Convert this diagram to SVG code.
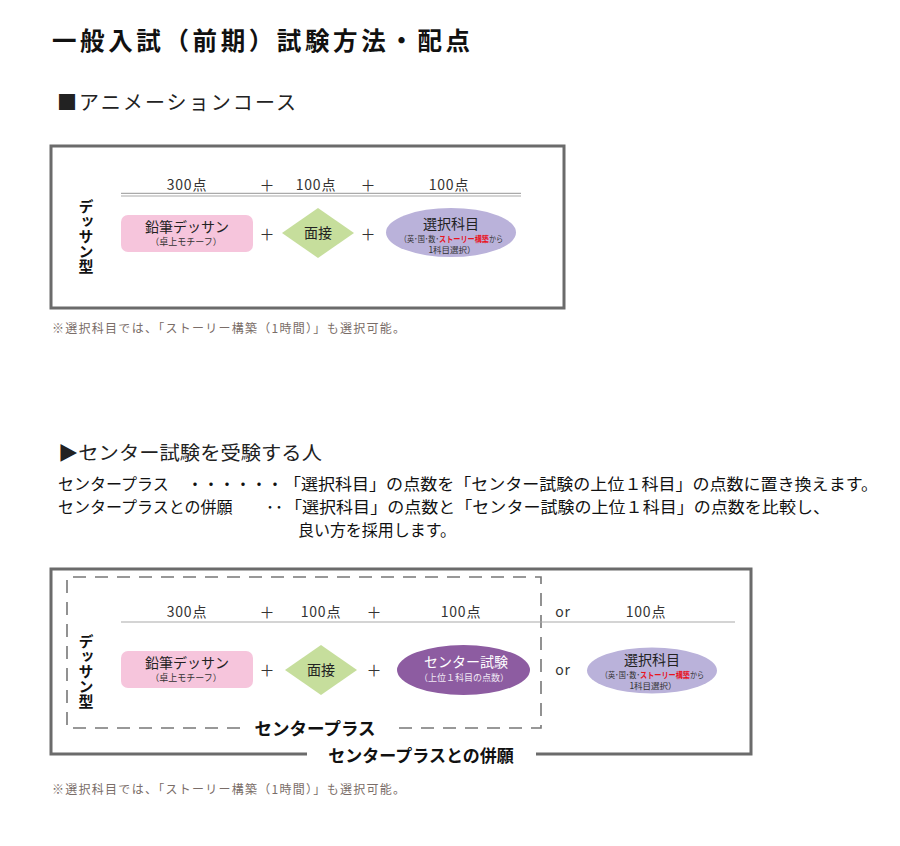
<svg xmlns="http://www.w3.org/2000/svg" width="900" height="846" viewBox="0 0 900 846">
<style>
text{font-family:"Noto Sans CJK JP","Noto Sans",sans-serif;fill:#222}
.b{font-weight:bold;fill:#111}
.frame{fill:none;stroke:#6b6b6b;stroke-width:3}
.dash{fill:none;stroke:#777;stroke-width:1.6;stroke-dasharray:13 9}
.rule{stroke:#aaa;stroke-width:1.2}
.sc{font-size:14px;text-anchor:middle;fill:#333;letter-spacing:0.8px}
.pl{font-size:15px;text-anchor:middle;fill:#333}
.vt{font-size:15px;font-weight:bold;writing-mode:vertical-rl;fill:#111}
.pink{fill:#f6c5dc}
.green{fill:#c6de9c}
.lav{fill:#bab2da}
.pur{fill:#8d5ca1}
.n1{font-size:14px;text-anchor:middle;fill:#222}
.n2{font-size:9px;text-anchor:middle;fill:#333}
.s{font-size:8.5px;fill:#333;text-anchor:middle}
.red{fill:#e8141e;font-weight:bold}
.note{font-size:12px;fill:#7a6d68}
.ln{font-size:16px;fill:#111}
</style>

<text class="b" x="52" y="50" font-size="24.5" textLength="418" lengthAdjust="spacing">一般入試（前期）試験方法・配点</text>
<text x="57" y="110" font-size="20" fill="#111" textLength="239" lengthAdjust="spacing">■アニメーションコース</text>

<!-- Box 1 -->
<g id="box1">
<rect class="frame" x="51" y="146" width="513" height="162"/>
<text class="sc" x="187" y="190">300点</text>
<text class="pl" x="267" y="191">＋</text>
<text class="sc" x="316" y="190">100点</text>
<text class="pl" x="368" y="191">＋</text>
<text class="sc" x="449" y="190">100点</text>
<line class="rule" x1="121" y1="193.3" x2="521" y2="193.3"/>
<line class="rule" x1="121" y1="196" x2="521" y2="196"/>
<text class="vt" x="86" y="199">デッサン型</text>
</g>
<g id="node1-dessin">
<rect class="pink" x="121" y="215" width="132" height="37" rx="7"/>
<text class="n1" x="187" y="232">鉛筆デッサン</text>
<text class="n2" x="186" y="245" font-size="9.5">（卓上モチーフ）</text>
</g>
<text class="pl" x="267" y="240">＋</text>
<g id="node1-interview">
<polygon class="green" points="318,208 354,233 318,258 282,233"/>
<text class="n1" x="318" y="238">面接</text>
</g>
<text class="pl" x="368" y="240">＋</text>
<g id="node1-select">
<ellipse class="lav" cx="451" cy="232.5" rx="65" ry="24.5"/>
<text class="n1" x="451" y="229">選択科目</text>
<text class="s" transform="translate(451.5,242) scale(0.84,1)">（英･国･数･<tspan class="red">ストーリー構築</tspan>から</text>
<text class="s" x="452" y="253">1科目選択）</text>
</g>
<text class="note" x="52" y="333" textLength="353" lengthAdjust="spacing">※選択科目では、「ストーリー構築（1時間）」も選択可能。</text>

<!-- Section 2 -->
<text x="58" y="460" font-size="19" fill="#111" textLength="264" lengthAdjust="spacingAndGlyphs">▶センター試験を受験する人</text>
<text class="ln" x="58" y="490">センタープラス</text>
<text class="ln" x="187" y="490" textLength="96" lengthAdjust="spacing">・・・・・・</text>
<text class="ln" x="284" y="490" textLength="594" lengthAdjust="spacingAndGlyphs">「選択科目」の点数を「センター試験の上位１科目」の点数に置き換えます。</text>
<text class="ln" x="58" y="513">センタープラスとの併願</text>
<text class="ln" x="266" y="513" letter-spacing="1">･･</text>
<text class="ln" x="285" y="513" textLength="545" lengthAdjust="spacingAndGlyphs">「選択科目」の点数と「センター試験の上位１科目」の点数を比較し、</text>
<text class="ln" x="298" y="536" textLength="158" lengthAdjust="spacing">良い方を採用します。</text>

<!-- Box 2 -->
<g id="box2">
<path class="frame" d="M307,754 H51 V569 H751 V754 H536"/>
<text class="b" x="421" y="762" font-size="17" text-anchor="middle">センタープラスとの併願</text>
<path class="dash" d="M240,728 H67 V577 H541 V728 H392"/>
<text class="b" x="315" y="735" font-size="17.5" text-anchor="middle">センタープラス</text>
<text class="sc" x="187" y="617">300点</text>
<text class="pl" x="267" y="618">＋</text>
<text class="sc" x="321" y="617">100点</text>
<text class="pl" x="374" y="618">＋</text>
<text class="sc" x="461" y="617">100点</text>
<text class="sc" x="563" y="617">or</text>
<text class="sc" x="646" y="617">100点</text>
<line class="rule" x1="121" y1="622" x2="735" y2="622"/>
<text class="vt" x="86" y="634">デッサン型</text>
</g>
<g id="node2-dessin">
<rect class="pink" x="121" y="651" width="132" height="37" rx="7"/>
<text class="n1" x="187" y="668">鉛筆デッサン</text>
<text class="n2" x="186" y="681" font-size="9.5">（卓上モチーフ）</text>
</g>
<text class="pl" x="267" y="676">＋</text>
<g id="node2-interview">
<polygon class="green" points="321,645 357,670 321,695 285,670"/>
<text class="n1" x="321" y="675">面接</text>
</g>
<text class="pl" x="374" y="676">＋</text>
<g id="node2-center">
<ellipse class="pur" cx="463.5" cy="670" rx="66.5" ry="25"/>
<text class="n1" x="466" y="667" font-size="15" style="fill:#fff">センター試験</text>
<text class="n2" x="464" y="681" font-size="8.5" style="fill:#f0e8f4">（上位１科目の点数）</text>
</g>
<text class="sc" x="563" y="675">or</text>
<g id="node2-select">
<ellipse class="lav" cx="652" cy="670.5" rx="65" ry="23"/>
<text class="n1" x="652" y="665">選択科目</text>
<text class="s" transform="translate(652.5,678) scale(0.84,1)">（英･国･数･<tspan class="red">ストーリー構築</tspan>から</text>
<text class="s" x="653" y="689">1科目選択）</text>
</g>
<text class="note" x="52" y="794" textLength="353" lengthAdjust="spacing">※選択科目では、「ストーリー構築（1時間）」も選択可能。</text>
</svg>
